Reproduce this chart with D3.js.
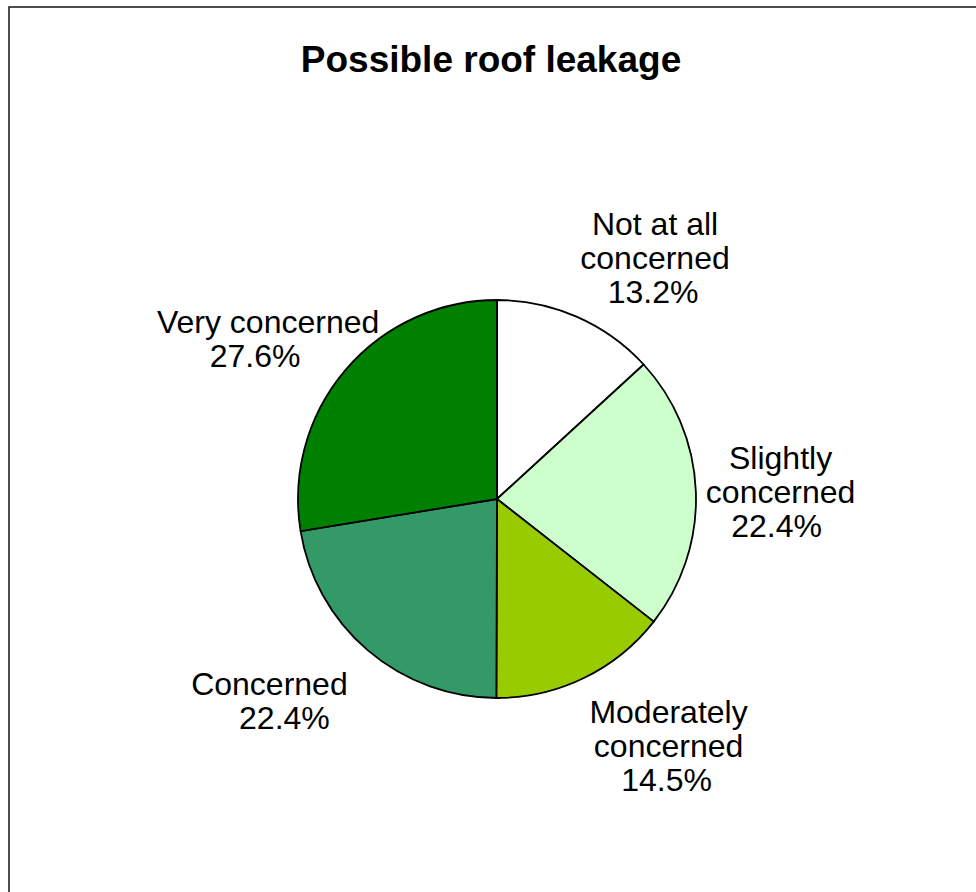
<!DOCTYPE html>
<html>
<head>
<meta charset="utf-8">
<script src="https://cdn.jsdelivr.net/npm/d3@7"></script>
<style>
  html, body { margin: 0; padding: 0; background: #fff; }
  svg { display: block; }
  text { font-family: "Liberation Sans", Arial, sans-serif; fill: #000; }
</style>
</head>
<body>
<div id="plotDiv"></div>
<script>
// chart data
var categories = ["Not at all concerned", "Slightly concerned", "Moderately concerned", "Concerned", "Very concerned"];
var labelLines = [["Not at all", "concerned"], ["Slightly", "concerned"], ["Moderately", "concerned"], ["Concerned"], ["Very concerned"]];
var values = [13.2, 22.4, 14.5, 22.4, 27.6];
var colors = ["#FFFFFF", "#CCFFCC", "#99CC00", "#339966", "#008000"];
var title = "Possible roof leakage";

var width = 976, height = 892;
var cx = 497, cy = 499, radius = 199;
var fontSize = 32, lineH = 34;
// small fixes so the labels sit where the original put them
var labelNudge = [[0, 0], [2, 2], [2, 11], [-15, 12], [40, 9]];
var pctShift = [-2, -4, -2, 15, -13];

var svg = d3.select("#plotDiv")
    .append("svg")
        .attr("width", width)
        .attr("height", height);

// outer frame (runs off the right and bottom)
svg.append("rect")
    .attr("x", 9)
    .attr("y", 7)
    .attr("width", width + 20)
    .attr("height", height + 20)
    .attr("fill", "none")
    .attr("stroke", "#222")
    .attr("stroke-width", 1.6);

svg.append("text")
    .attr("x", 491)
    .attr("y", 72)
    .attr("text-anchor", "middle")
    .style("font-size", "37px")
    .style("font-weight", "bold")
    .text(title);

var pie = d3.pie()
    .sort(null)
    .value(function(d) { return d; });

var arc = d3.arc()
    .innerRadius(0)
    .outerRadius(radius);

var arcs = pie(values);

var g = svg.append("g")
    .attr("transform", "translate(" + cx + "," + cy + ")");

g.selectAll("path")
    .data(arcs)
    .enter().append("path")
    .attr("d", arc)
    .attr("fill", function(d, i) { return colors[i]; })
    .attr("stroke", "#000")
    .attr("stroke-width", 1.8)
    .attr("stroke-linejoin", "round");

// labels: box corner placed just outside the slice middle
var gap = 8;
arcs.forEach(function(d, i) {
    var a = (d.startAngle + d.endAngle) / 2;
    var s = Math.sin(a), c = Math.cos(a);
    var px = (radius + gap) * s, py = -(radius + gap) * c;
    var lines = labelLines[i].concat([d3.format(".1f")(values[i]) + "%"]);
    var boxH = lines.length * lineH;

    var tmp = g.append("text").style("font-size", fontSize + "px");
    var boxW = 0;
    lines.forEach(function(l) {
        tmp.text(l);
        boxW = Math.max(boxW, tmp.node().getComputedTextLength());
    });
    tmp.remove();

    var left;
    if (Math.abs(s) < 0.2) left = px - boxW / 2;
    else if (s > 0) left = px;
    else left = px - boxW;
    var top;
    if (Math.abs(c) < 0.3) top = py - boxH / 2;
    else if (c > 0) top = py - boxH;
    else top = py;

    left += labelNudge[i][0];
    top += labelNudge[i][1];

    var t = g.append("text")
        .attr("text-anchor", "middle")
        .style("font-size", fontSize + "px");
    lines.forEach(function(l, j) {
        var last = j === lines.length - 1;
        t.append("tspan")
            .attr("x", left + boxW / 2 + (last ? pctShift[i] : 0))
            .attr("y", top + 27 + j * lineH)
            .text(l);
    });
});
</script>
</body>
</html>
